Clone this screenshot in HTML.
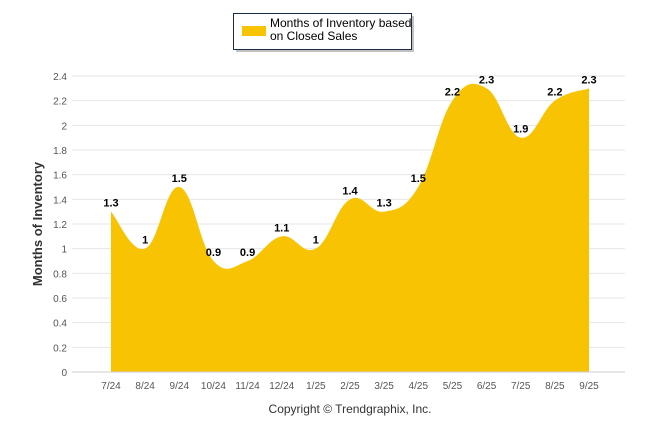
<!DOCTYPE html>
<html><head><meta charset="utf-8"><style>
body{margin:0;background:#fff;width:646px;height:434px;overflow:hidden;font-family:"Liberation Sans",Arial,sans-serif}
</style></head><body>
<svg width="646" height="434">
<g id="grid"></g>
<g id="yt" font-size="10" fill="#555" text-anchor="end"></g>
<g id="xt" font-size="10" fill="#555" text-anchor="middle"></g>
<path id="area" fill="#F7C303"/>
<g id="lbl" font-size="11" font-weight="bold" fill="#000" text-anchor="middle"></g>
<line x1="72" y1="372" x2="625" y2="372" stroke="#ccc"/>
<text transform="translate(42,224) rotate(-90)" text-anchor="middle" font-size="13" font-weight="bold" fill="#333">Months of Inventory</text>
<text x="350" y="413" text-anchor="middle" font-size="12" fill="#333">Copyright © Trendgraphix, Inc.</text>
<g>
<rect x="236" y="16" width="178" height="36" fill="#999" opacity="0.6"/>
<rect x="233.5" y="13.5" width="178" height="36" fill="#fff" stroke="#1a2b4a"/>
<rect x="242" y="26" width="24" height="10" fill="#F7C303"/>
<text x="270" y="27" font-size="12" fill="#000"><tspan x="270">Months of Inventory based</tspan><tspan x="270" dy="13">on Closed Sales</tspan></text>
</g>
</svg>
<script>
const categories=["7/24","8/24","9/24","10/24","11/24","12/24","1/25","2/25","3/25","4/25","5/25","6/25","7/25","8/25","9/25"];
const values=[1.3,1,1.5,0.9,0.9,1.1,1,1.4,1.3,1.5,2.2,2.3,1.9,2.2,2.3];
const yTicks=[0,0.2,0.4,0.6,0.8,1,1.2,1.4,1.6,1.8,2,2.2,2.4];
const NS="http://www.w3.org/2000/svg";
const y=v=>372-v*(296/2.4);
const x=i=>111+i*(478/(categories.length-1));
function mk(t,a,p,txt){const e=document.createElementNS(NS,t);for(const k in a)e.setAttribute(k,a[k]);if(txt!=null)e.textContent=txt;p.appendChild(e);return e;}
const grid=document.getElementById('grid'),yt=document.getElementById('yt'),xt=document.getElementById('xt'),lbl=document.getElementById('lbl');
yTicks.forEach(v=>{
 const l=mk('line',{x1:72,x2:625,y1:y(v),y2:y(v),stroke:'#e6e6e6'},grid);
 
 
 const t=mk('text',{x:67,y:y(v)+4},yt,String(v));
 
 
});
categories.forEach((c,i)=>{
 const t=mk('text',{x:x(i),y:389},xt,c);
 
 
});
const pts=values.map((v,i)=>[x(i),y(v)]);
let d=`M${pts[0][0]},372 L${pts[0][0]},${pts[0][1]}`;
const k=0.2;
for(let i=0;i<pts.length-1;i++){
 const p0=pts[i],p1=pts[i+1];
 const pm=pts[i-1]||p0,pn=pts[i+2]||p1;
 const c1=[p0[0]+(p1[0]-pm[0])*k,p0[1]+(p1[1]-pm[1])*k];
 const c2=[p1[0]-(pn[0]-p0[0])*k,p1[1]-(pn[1]-p0[1])*k];
 d+=` C${c1[0]},${c1[1]} ${c2[0]},${c2[1]} ${p1[0]},${p1[1]}`;
}
d+=` L${pts[pts.length-1][0]},372 Z`;
document.getElementById('area').setAttribute('d',d);
values.forEach((v,i)=>{
 const t=mk('text',{x:x(i),y:y(v)-5},lbl,String(v));
 
 
});
</script>
</body></html>
